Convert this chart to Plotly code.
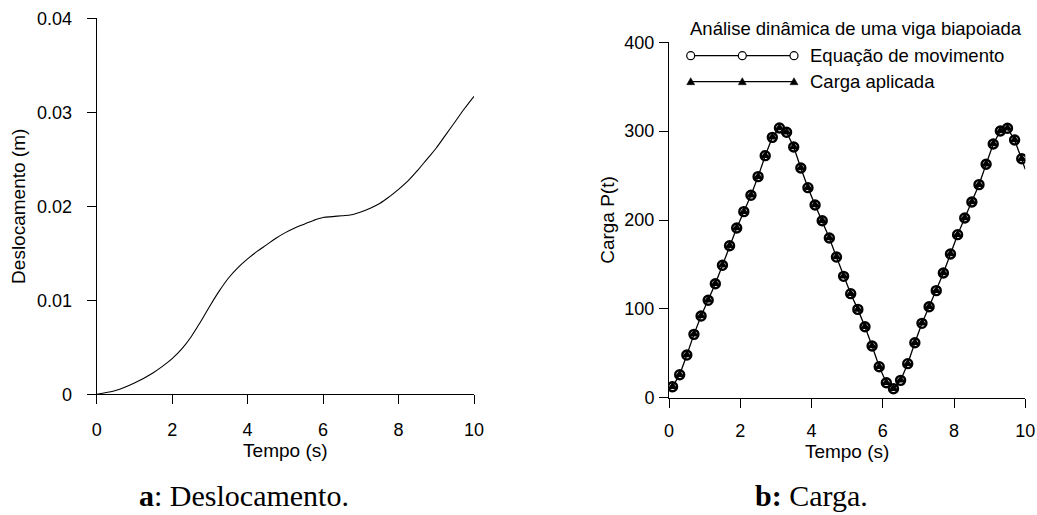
import plotly.graph_objects as go

# ---------------- data ----------------
# (a) displacement vs time
tempo_a = [0, 0.5, 1.0, 1.5, 1.75, 2.0, 2.25, 2.5, 2.75, 3.0, 3.25, 3.5,
           3.75, 4.0, 4.25, 4.5, 4.75, 5.0, 5.25, 5.5, 5.75, 6.0, 6.25, 6.5,
           6.75, 7.0, 7.25, 7.5, 7.75, 8.0, 8.25, 8.5, 8.75, 9.0, 9.25, 9.5,
           9.75, 10.0]
deslocamento = [0, 0.0004, 0.0012, 0.0023, 0.0030, 0.0038, 0.0048, 0.0061,
                0.0077, 0.0094, 0.0110, 0.0124, 0.0135, 0.0144, 0.0152,
                0.0159, 0.0166, 0.0172, 0.0177, 0.0181, 0.0185, 0.0188,
                0.0189, 0.0190, 0.0191, 0.0194, 0.0198, 0.0203, 0.0210,
                0.0218, 0.0227, 0.0238, 0.0250, 0.0262, 0.0276, 0.0290,
                0.0304, 0.0317]

# (b) load vs time (markers every 0.2 s starting at 0.1 s)
tempo_b = [round(0.1 + 0.2 * i, 1) for i in range(50)]
carga = [12.4, 25.9, 48.0, 71.3, 91.9, 109.6, 128.3, 149.0, 171.1, 191.0,
         209.4, 227.8, 248.8, 272.4, 293.0, 303.6, 298.7, 282.2, 258.5, 236.4,
         216.9, 199.2, 179.7, 158.3, 136.6, 117.1, 99.4, 79.9, 58.2, 34.9,
         16.9, 10.1, 19.5, 38.3, 61.9, 83.7, 102.4, 120.5, 140.3, 161.7,
         183.5, 202.3, 220.3, 239.8, 262.7, 285.5, 300.2, 303.2, 290.1, 269.0]
tempo_fim = 10.0
carga_fim = 257.0

x_ticks = [0, 2, 4, 6, 8, 10]
ya_ticks = [0, 0.01, 0.02, 0.03, 0.04]
yb_ticks = [0, 100, 200, 300, 400]

legend_title = "Análise dinâmica de uma viga biapoiada"
name_eq = "Equação de movimento"
name_carga = "Carga aplicada"

# ---------------- figure ----------------
W, H = 1037, 515
FONT = "Liberation Sans, Arial, sans-serif"
SERIF = "Liberation Serif, Times New Roman, serif"


def px(x):
    return x / W


def py(y):
    return 1 - y / H


fig = go.Figure()

fig.add_trace(go.Scatter(x=tempo_a, y=deslocamento, mode="lines",
                         line=dict(color="black", width=1.1, shape="spline",
                                   smoothing=1.0),
                         xaxis="x", yaxis="y", showlegend=False))

fig.add_trace(go.Scatter(x=tempo_b + [tempo_fim], y=carga + [carga_fim],
                         mode="lines", line=dict(color="black", width=1.3),
                         xaxis="x2", yaxis="y2", showlegend=False))
fig.add_trace(go.Scatter(x=tempo_b, y=carga, mode="markers", name=name_carga,
                         marker=dict(symbol="triangle-up", size=9, color="black"),
                         xaxis="x2", yaxis="y2", showlegend=False))
fig.add_trace(go.Scatter(x=tempo_b, y=carga, mode="markers", name=name_eq,
                         marker=dict(symbol="circle-open", size=9, color="black",
                                     line=dict(width=2.4, color="black")),
                         xaxis="x2", yaxis="y2", showlegend=False))

axis_common = dict(showline=True, linecolor="black", linewidth=1,
                   ticks="outside", ticklen=9, tickwidth=1, tickcolor="black",
                   showgrid=False, zeroline=False,
                   tickfont=dict(family=FONT, size=18, color="black"),
                   ticklabeloverflow="allow",
                   automargin=False)

fig.update_layout(
    width=W, height=H,
    margin=dict(l=0, r=0, t=0, b=0),
    paper_bgcolor="white", plot_bgcolor="white",
    font=dict(family=FONT, color="black"),
    xaxis=dict(domain=[px(96.7), px(474)], range=[0, 10], tickvals=x_ticks,
               anchor="y", ticklabelstandoff=10,
               title=dict(text="Tempo (s)", font=dict(size=19), standoff=1),
               **axis_common),
    yaxis=dict(domain=[py(394.3), py(18.3)], range=[0, 0.04], tickvals=ya_ticks,
               anchor="x", ticklabelstandoff=11,
               title=dict(text="Deslocamento (m)", font=dict(size=19), standoff=6),
               **axis_common),
    xaxis2=dict(domain=[px(669), px(1025.3)], range=[0, 10], tickvals=x_ticks,
                anchor="y2", ticklabelstandoff=8,
                title=dict(text="Tempo (s)", font=dict(size=19), standoff=1),
                **axis_common),
    yaxis2=dict(domain=[py(397.7), py(42.3)], range=[0, 400], tickvals=yb_ticks,
                anchor="x2", ticklabelstandoff=1,
                title=dict(text="Carga P(t)", font=dict(size=19), standoff=4),
                **axis_common),
    showlegend=False,
)

# ---------------- custom legend (decoration) ----------------
shapes = []
annotations = []
leg_x0, leg_xm, leg_x1 = 690.7, 742.3, 794.0
rows = [(55.7, "circle", name_eq), (81.7, "triangle", name_carga)]
for yrow, kind, label in rows:
    shapes.append(dict(type="line", xref="paper", yref="paper",
                       x0=px(leg_x0), x1=px(leg_x1), y0=py(yrow), y1=py(yrow),
                       line=dict(color="black", width=1.2)))
    for xc in (leg_x0, leg_xm, leg_x1):
        if kind == "circle":
            r = 4.0
            shapes.append(dict(type="circle", xref="paper", yref="paper",
                               x0=px(xc - r), x1=px(xc + r),
                               y0=py(yrow + r), y1=py(yrow - r),
                               fillcolor="white",
                               line=dict(color="black", width=1.2)))
        else:
            path = "M {:.5f} {:.5f} L {:.5f} {:.5f} L {:.5f} {:.5f} Z".format(
                px(xc - 4), py(yrow + 3), px(xc + 4), py(yrow + 3),
                px(xc), py(yrow - 4))
            shapes.append(dict(type="path", xref="paper", yref="paper",
                               path=path, fillcolor="black",
                               line=dict(color="black", width=0.5)))
    annotations.append(dict(text=label, xref="paper", yref="paper",
                            x=px(808), y=py(yrow), xanchor="left",
                            yanchor="middle", showarrow=False,
                            font=dict(family=FONT, size=18.5, color="black")))

annotations.append(dict(text=legend_title, xref="paper", yref="paper",
                        x=px(1024), y=py(28.5), xanchor="right",
                        yanchor="middle", showarrow=False,
                        font=dict(family=FONT, size=18.5, color="black")))

# captions
annotations.append(dict(text="<b>a</b>: Deslocamento.", xref="paper",
                        yref="paper", x=px(244), y=py(495), xanchor="center",
                        yanchor="middle", showarrow=False,
                        font=dict(family=SERIF, size=30, color="black")))
annotations.append(dict(text="<b>b:</b> Carga.", xref="paper",
                        yref="paper", x=px(811), y=py(495), xanchor="center",
                        yanchor="middle", showarrow=False,
                        font=dict(family=SERIF, size=30, color="black")))

fig.update_layout(shapes=shapes, annotations=annotations)

fig.write_html(
    "out.html",
    config={"displayModeBar": False},
    post_script="document.body.style.margin='0';"
                "document.body.style.overflow='hidden';",
)
